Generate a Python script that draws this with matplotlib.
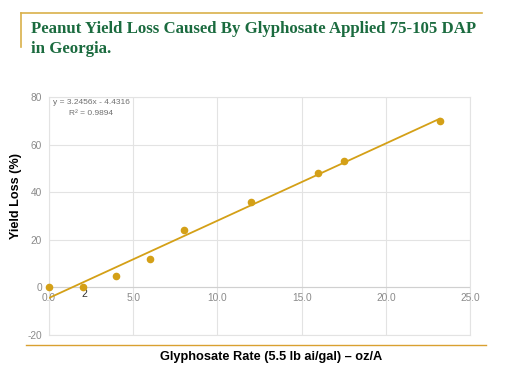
import matplotlib
matplotlib.use("Agg")
import matplotlib.pyplot as plt
import numpy as np
from matplotlib.lines import Line2D

plt.rcParams["axes.unicode_minus"] = False

rate = [0.0, 2.0, 4.0, 6.0, 8.0, 12.0, 16.0, 17.5, 23.2]
loss = [0.0, 0.0, 5.0, 12.0, 24.0, 36.0, 48.0, 53.0, 70.0]
slope, intercept = 3.2456, -4.4316
xticks = [0.0, 5.0, 10.0, 15.0, 20.0, 25.0]
yticks = [-20, 0, 20, 40, 60, 80]

W, H = 512, 384
fig = plt.figure(figsize=(W/100, H/100), dpi=100)
gold = "#d4a017"
green = "#1b6b3f"

ax = fig.add_axes([49/W, 1-335/H, (470-49)/W, (335-97)/H])
ax.set_xlim(0, 25)
ax.set_ylim(-20, 80)
ax.set_xticks(xticks)
ax.set_yticks(yticks)
ax.grid(True, color="#e3e3e3", lw=0.8)
ax.set_axisbelow(True)
for s in ax.spines.values():
    s.set_color("#e3e3e3")
    s.set_linewidth(0.8)
ax.tick_params(length=0, labelsize=7.3, labelcolor="#8a8a8a", labelbottom=False)
ax.tick_params(axis="y", pad=5)
ax.axhline(0, color="#d0d0d0", lw=0.8, zorder=1)
for xt in xticks:
    ax.text(xt, -2.2, f"{xt:.1f}", ha="center", va="top", fontsize=7.3,
            color="#8a8a8a", family="Liberation Sans")
for lab in ax.get_yticklabels():
    lab.set_family("Liberation Sans")

xs = np.array([rate[0], rate[-1]])
ax.plot(xs, slope*xs + intercept, color=gold, lw=1.3, zorder=3)
ax.scatter(rate, loss, s=20, color=gold, zorder=4, clip_on=False)
ax.text(rate[1] + 0.1, loss[1] - 0.8, "2", ha="center", va="top", fontsize=7.5,
        color="#333333", family="Liberation Sans")
ax.text(0.25, 79, f"y = {slope}x - {abs(intercept)}", ha="left", va="top",
        fontsize=6, color="#707070", family="Liberation Sans")
ax.text(2.5, 74.5, "R² = 0.9894", ha="center", va="top",
        fontsize=6, color="#707070", family="Liberation Sans")

fig.text(16/W, 1-196/H, "Yield Loss (%)", rotation=90, ha="center", va="center",
         fontsize=9.1, fontweight="bold", family="Liberation Sans")
fig.text(271/W, 1-357/H, "Glyphosate Rate (5.5 lb ai/gal) – oz/A", ha="center",
         va="center", fontsize=9.2, fontweight="bold", family="Liberation Sans")

fig.text(31/W, 1-29/H, "Peanut Yield Loss Caused By Glyphosate Applied 75-105 DAP",
         ha="left", va="center", fontsize=12.1, fontweight="bold", color=green,
         family="Liberation Serif")
fig.text(31/W, 1-49/H, "in Georgia.", ha="left", va="center", fontsize=12.1,
         fontweight="bold", color=green, family="Liberation Serif")

fig.add_artist(Line2D([21/W, 482/W], [1-13/H, 1-13/H], color="#d9b04a", lw=1.2))
fig.add_artist(Line2D([21/W, 21/W], [1-13/H, 1-47/H], color="#d9b04a", lw=1.2))
fig.add_artist(Line2D([26/W, 486/W], [1-345/H, 1-345/H], color="#d9a030", lw=1.0))

fig.savefig("out.png", dpi=100)
